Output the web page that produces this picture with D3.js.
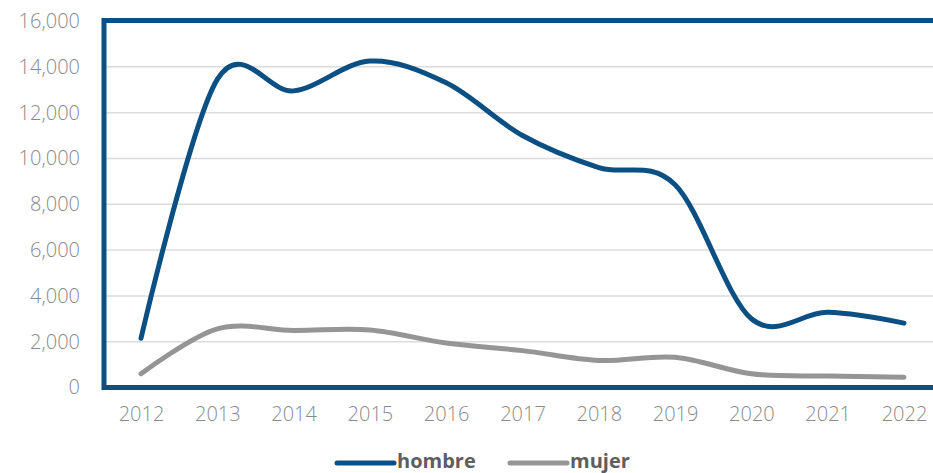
<!DOCTYPE html>
<html>
<head>
<meta charset="utf-8">
<script src="https://cdn.jsdelivr.net/npm/d3@7"></script>
<style>
  body { margin: 0; background: #fff; }
  svg { display: block; font-family: "Open Sans", sans-serif; }
</style>
</head>
<body>
<svg id="chart" width="933" height="473"></svg>
<script>
// Data.
var years = [2012, 2013, 2014, 2015, 2016, 2017, 2018, 2019, 2020, 2021, 2022];
var hombre = [2150, 13450, 12950, 14250, 13300, 11000, 9600, 8850, 3000, 3280, 2810];
var mujer = [600, 2560, 2490, 2510, 1940, 1610, 1180, 1320, 600, 500, 450];
var yTicks = [0, 2000, 4000, 6000, 8000, 10000, 12000, 14000, 16000];
var seriesNames = ["hombre", "mujer"];

var blue = "#0c5083", gray = "#959595", labelGray = "#8a8a8a";

var svg = d3.select("#chart");

// Scales.
var x = d3.scaleLinear().domain([2012, 2022]).range([141, 904]);
var y = d3.scaleLinear().domain([0, 16000]).range([387.5, 21]);

// Grid lines.
svg.append("g")
  .selectAll("line")
  .data(yTicks.slice(1))
  .enter().append("line")
  .attr("x1", 104).attr("x2", 933)
  .attr("y1", function(d) { return y(d); })
  .attr("y2", function(d) { return y(d); })
  .attr("stroke", "#dcdcdc")
  .attr("stroke-width", 1.5);

// Y axis labels.
var yAxis = d3.axisLeft(y)
  .tickValues(yTicks)
  .tickFormat(d3.format(","))
  .tickSize(0)
  .tickPadding(0);

var yg = svg.append("g")
  .attr("transform", "translate(80,0)")
  .call(yAxis);
yg.select(".domain").remove();
yg.selectAll("text")
  .attr("fill", labelGray)
  .style("font-size", "20px")
  .style("font-weight", 300)
  .style("font-family", "'Open Sans', sans-serif");

// X axis labels.
var xAxis = d3.axisBottom(x)
  .tickValues(years)
  .tickFormat(d3.format("d"))
  .tickSize(0)
  .tickPadding(0);

var xg = svg.append("g")
  .attr("transform", "translate(0,407)")
  .call(xAxis);
xg.select(".domain").remove();
xg.selectAll("text")
  .attr("fill", labelGray)
  .style("font-size", "20px")
  .style("font-weight", 300)
  .style("font-family", "'Open Sans', sans-serif");

// Frame around the plot.
svg.append("rect")
  .attr("x", 104)
  .attr("y", 20.5)
  .attr("width", 850)
  .attr("height", y(0) - 20.5)
  .attr("fill", "none")
  .attr("stroke", blue)
  .attr("stroke-width", 5);

// Lines.
var line = d3.line()
  .x(function(d, i) { return x(years[i]); })
  .y(function(d) { return y(d); })
  .curve(d3.curveCardinal.tension(0));

svg.append("path")
  .datum(mujer)
  .attr("d", line)
  .attr("fill", "none")
  .attr("stroke", gray)
  .attr("stroke-width", 5)
  .attr("stroke-linecap", "round");

svg.append("path")
  .datum(hombre)
  .attr("d", line)
  .attr("fill", "none")
  .attr("stroke", blue)
  .attr("stroke-width", 5)
  .attr("stroke-linecap", "round");

// Legend.
var legendColors = [blue, gray];
var legendX = [337, 510];
var legend = svg.append("g")
  .selectAll("g")
  .data(seriesNames)
  .enter().append("g")
  .attr("transform", function(d, i) { return "translate(" + legendX[i] + ",463)"; });

legend.append("line")
  .attr("x1", 0).attr("x2", 57)
  .attr("y1", 0).attr("y2", 0)
  .attr("stroke", function(d, i) { return legendColors[i]; })
  .attr("stroke-width", 5)
  .attr("stroke-linecap", "round");

legend.append("text")
  .attr("x", 60)
  .attr("y", 5)
  .attr("fill", "#5e5e5e")
  .style("font-size", "20px")
  .style("font-weight", 700)
  .text(function(d) { return d; });
</script>
</body>
</html>
